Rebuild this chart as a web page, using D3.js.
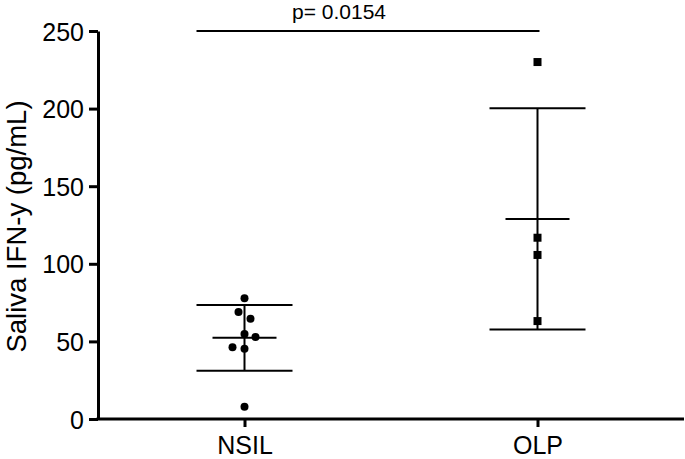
<!DOCTYPE html>
<html>
<head>
<meta charset="utf-8">
<script src="https://cdn.jsdelivr.net/npm/d3@7"></script>
<style>
  body { margin: 0; background: #fff; }
  svg { display: block; font-family: "Liberation Sans", Arial, sans-serif; }
</style>
</head>
<body>
<div id="chart"></div>
<script>
var groups = ['NSIL', 'OLP'],
    nsilValues = [77.8, 69, 64.6, 54.8, 52.8, 46.2, 45.3, 7.9],
    olpValues = [230, 116.8, 105.7, 63.1],
    yTicks = [0, 50, 100, 150, 200, 250],
    pLabel = 'p= 0.0154',
    yLabel = 'Saliva IFN-y (pg/mL)'

// horizontal jitter of the scatter dots, px
var jitter = {
    NSIL: [0, -6, 6, 0, 11, -12, 0, 0],
    OLP: [0, 0, 0, 0]
}

var width = 685, height = 459,
    margins = {top: 31, right: 1, bottom: 40, left: 98}

var series = [
    {name: 'NSIL', values: nsilValues, shape: 'circle'},
    {name: 'OLP', values: olpValues, shape: 'square'}
]

var svg = d3.select('#chart').append('svg')
    .attr('width', width)
    .attr('height', height)

var x = d3.scalePoint()
    .domain(groups)
    .range([margins.left, width - margins.right])
    .padding(0.5)

var y = d3.scaleLinear()
    .domain([0, 250])
    .range([height - margins.bottom, margins.top])

// axes
var yAxis = svg.append('g')
    .attr('transform', 'translate(' + margins.left + ',0)')
    .call(d3.axisLeft(y).tickValues(yTicks).tickSize(9).tickPadding(5).tickSizeOuter(0))

var xAxis = svg.append('g')
    .attr('transform', 'translate(0,' + y(0) + ')')
    .call(d3.axisBottom(x).tickSize(8).tickPadding(9).tickSizeOuter(0))

xAxis.select('.domain').attr('d', 'M' + (margins.left - 1.5) + ',0H' + (width - 1))

;[xAxis, yAxis].forEach(function (ax) {
    ax.selectAll('.domain, .tick line')
        .attr('stroke', '#000')
        .attr('stroke-width', 3)
    ax.selectAll('.tick text')
        .attr('fill', '#000')
        .attr('font-size', 25)
        .attr('font-family', '"Liberation Sans", Arial, sans-serif')
})
yAxis.selectAll('.tick text').attr('dy', '0.36em')

svg.append('text')
    .attr('transform', 'translate(26,' + (height / 2 - 3) + ') rotate(-90)')
    .attr('text-anchor', 'middle')
    .attr('font-size', 27.5)
    .text(yLabel)

// mean +/- SD bars
series.forEach(function (s) {
    var cx = x(s.name),
        m = d3.mean(s.values),
        sd = d3.deviation(s.values),
        g = svg.append('g').attr('stroke', '#000').attr('stroke-width', 2)

    g.append('line')
        .attr('x1', cx).attr('x2', cx)
        .attr('y1', y(m + sd)).attr('y2', y(m - sd))
    ;[m + sd, m - sd].forEach(function (v) {
        g.append('line')
            .attr('x1', cx - 48).attr('x2', cx + 48)
            .attr('y1', y(v)).attr('y2', y(v))
    })
    g.append('line')
        .attr('x1', cx - 32).attr('x2', cx + 32)
        .attr('y1', y(m)).attr('y2', y(m))

    if (s.shape === 'circle') {
        svg.selectAll(null)
            .data(s.values)
            .enter().append('circle')
            .attr('cx', function (d, i) { return cx + jitter[s.name][i] })
            .attr('cy', function (d) { return y(d) })
            .attr('r', 4)
            .attr('fill', '#000')
    } else {
        svg.selectAll(null)
            .data(s.values)
            .enter().append('rect')
            .attr('x', function (d, i) { return cx + jitter[s.name][i] - 4 })
            .attr('y', function (d) { return y(d) - 4 })
            .attr('width', 8)
            .attr('height', 8)
            .attr('fill', '#000')
    }
})

// significance bar
svg.append('line')
    .attr('x1', x('NSIL') - 48).attr('x2', x('OLP') + 2)
    .attr('y1', y(250)).attr('y2', y(250))
    .attr('stroke', '#000')
    .attr('stroke-width', 2)

svg.append('text')
    .attr('x', 339)
    .attr('y', 19)
    .attr('text-anchor', 'middle')
    .attr('font-size', 21)
    .text(pLabel)
</script>
</body>
</html>
